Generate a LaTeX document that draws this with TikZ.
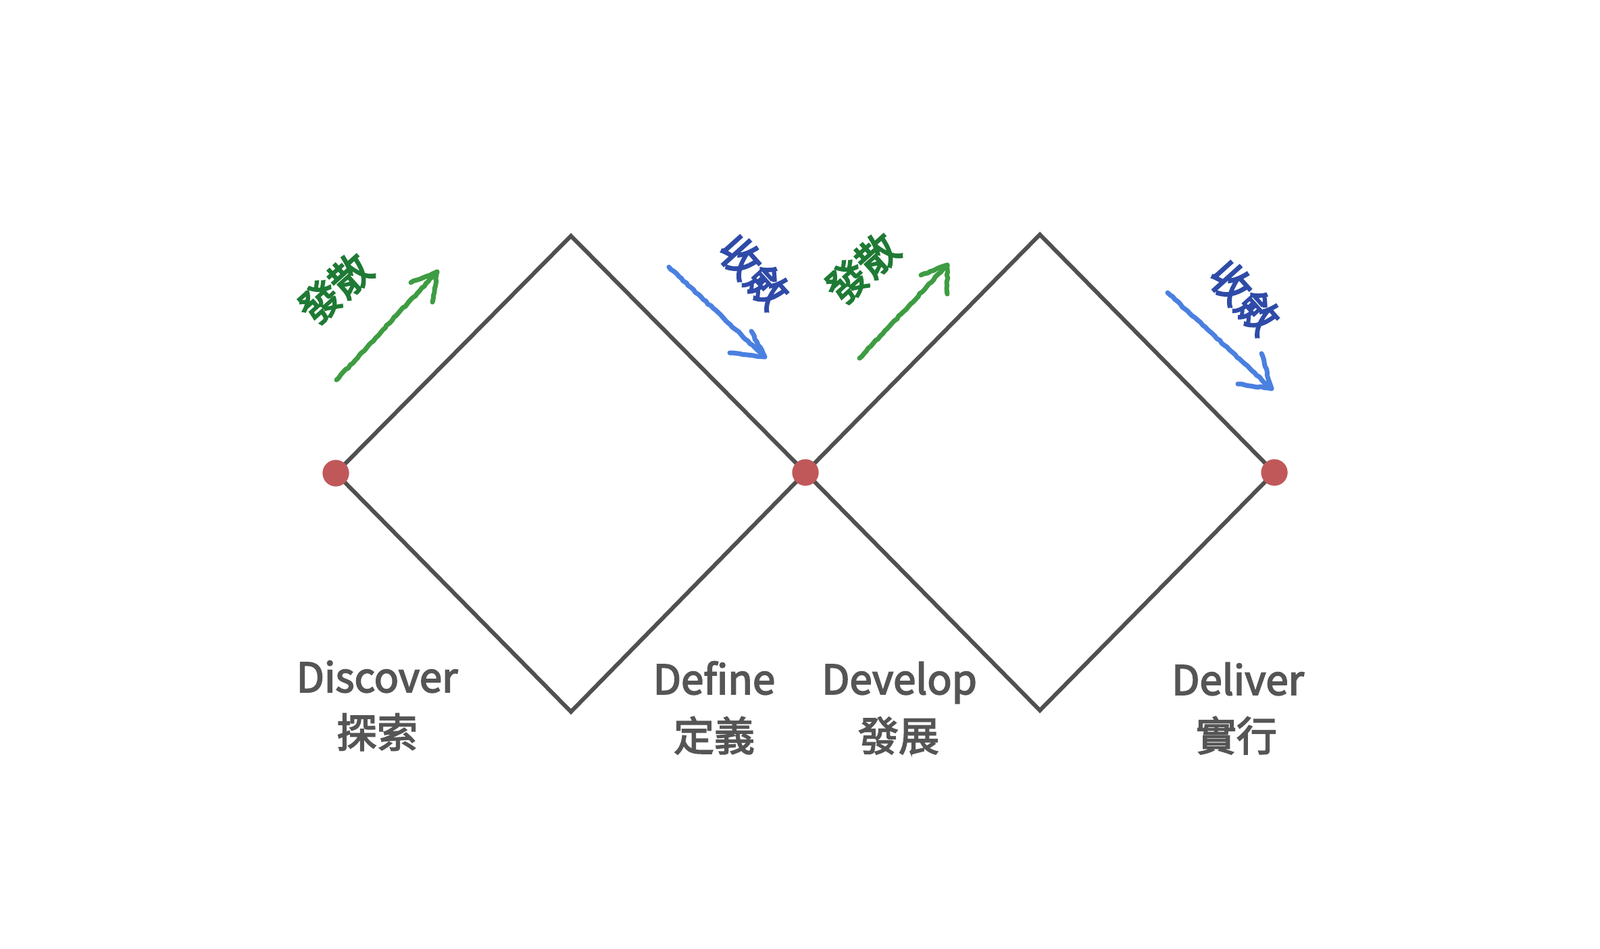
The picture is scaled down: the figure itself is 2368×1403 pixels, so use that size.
\documentclass[tikz,border=0pt]{standalone}
\usepackage{fontspec}
\setmainfont{Noto Sans CJK TC}
\newfontfamily\labfont{Noto Sans CJK TC}[FakeBold=3]
\newfontfamily\rotfont{Noto Sans CJK TC}[FakeBold=4]
\usetikzlibrary{decorations.pathmorphing}
\definecolor{linegray}{HTML}{505050}
\definecolor{textgray}{HTML}{555555}
\definecolor{dotred}{HTML}{C0585A}
\definecolor{txtgreen}{HTML}{1F7A35}
\definecolor{arrgreen}{HTML}{3E9C42}
\definecolor{txtblue}{HTML}{2F4BA8}
\definecolor{arrblue}{HTML}{4A80E0}
\tikzset{
  diamondline/.style={draw=linegray, line width=6pt, line join=miter},
  reddot/.style={circle, fill=dotred, minimum size=39pt, inner sep=0pt},
  enlabel/.style={anchor=base, text=textgray, font=\labfont\fontsize{60}{60}\selectfont, inner sep=0pt},
  zhlabel/.style={anchor=base, text=textgray, font=\labfont\fontsize{60}{60}\selectfont, inner sep=0pt},
  divtext/.style={text=txtgreen, font=\rotfont\fontsize{60}{60}\selectfont, inner sep=0pt, rotate=42},
  context/.style={text=txtblue, font=\rotfont\fontsize{60}{60}\selectfont, inner sep=0pt, rotate=-48},
  chalk/.style={line width=7pt, line cap=round, line join=round,
    decorate, decoration={random steps, segment length=5pt, amplitude=0.9pt}},
  greenchalk/.style={chalk, draw=arrgreen},
  bluechalk/.style={chalk, draw=arrblue}
}
\begin{document}
\begin{tikzpicture}[x=1pt, y=-1pt]
\useasboundingbox (0,0) rectangle (2368,1403);
\fill[white] (0,0) rectangle (2368,1403);

% diamond vertices
\coordinate (top1) at (845,349);
\coordinate (bot1) at (845,1053);
\coordinate (top2) at (1539,347);
\coordinate (bot2) at (1539,1051);
\node[reddot] (p1) at (497,700) {};
\node[reddot] (p2) at (1192,699) {};
\node[reddot] (p3) at (1886,699) {};

% diamonds
\draw[diamondline] (p1.center) -- (top1) -- (p2.center) -- (bot1) -- cycle;
\draw[diamondline] (p2.center) -- (top2) -- (p3.center) -- (bot2) -- cycle;
% dots on top
\node[reddot] at (p1) {};
\node[reddot] at (p2) {};
\node[reddot] at (p3) {};

% green arrow 1
\coordinate (g1t) at (498,562);
\coordinate (g1h) at (647,402);
\coordinate (g1a) at (608,418);
\coordinate (g1b) at (640,447);
\draw[greenchalk] (g1t) -- (g1h);
\draw[greenchalk] (g1a) -- (g1h) -- (g1b);
% blue arrow 1
\coordinate (b1t) at (990,395);
\coordinate (b1h) at (1132,528);
\coordinate (b1a) at (1080,522);
\coordinate (b1b) at (1112,490);
\draw[bluechalk] (b1t) -- (b1h);
\draw[bluechalk] (b1a) -- (b1h) -- (b1b);
% green arrow 2
\coordinate (g2t) at (1272,530);
\coordinate (g2h) at (1402,392);
\coordinate (g2a) at (1363,407);
\coordinate (g2b) at (1402,435);
\draw[greenchalk] (g2t) -- (g2h);
\draw[greenchalk] (g2a) -- (g2h) -- (g2b);
% blue arrow 2
\coordinate (b2t) at (1728,433);
\coordinate (b2h) at (1882,575);
\coordinate (b2a) at (1832,568);
\coordinate (b2b) at (1867,523);
\draw[bluechalk] (b2t) -- (b2h);
\draw[bluechalk] (b2a) -- (b2h) -- (b2b);

% rotated labels
\node[divtext] (div1) at (496,427) {發散};
\node[context] (con1) at (1116,402) {收斂};
\node[divtext] (div2) at (1276,397) {發散};
\node[context] (con2) at (1842,440) {收斂};

% stage labels
\node[enlabel] (en1) at (558,1024) {Discover};
\node[zhlabel] (zh1) at (558,1106) {探索};
\node[enlabel] (en2) at (1057,1027) {Define};
\node[zhlabel] (zh2) at (1057,1111) {定義};
\node[enlabel] (en3) at (1331,1027) {Develop};
\node[zhlabel] (zh3) at (1330,1111) {發展};
\node[enlabel] (en4) at (1832,1028) {Deliver};
\node[zhlabel] (zh4) at (1830,1111) {實行};
\end{tikzpicture}
\end{document}
